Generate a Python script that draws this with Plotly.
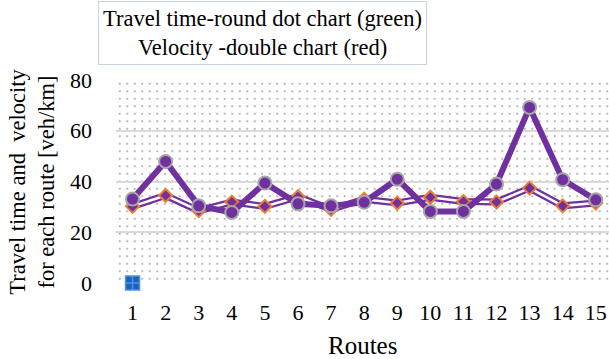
import plotly.graph_objects as go

routes = [str(i) for i in range(1, 16)]
travel_time = [33.1, 47.9, 30.4, 27.8, 39.4, 31.2, 30.4, 31.8, 40.9, 28.2, 28.2, 39.0, 69.2, 40.7, 32.8]
velocity = [30.2, 34.5, 28.5, 31.9, 30.2, 34.0, 29.0, 33.0, 31.5, 33.8, 32.1, 31.9, 37.4, 30.4, 31.5]
extra_x = ["1"]
extra_y = [0]
y_ticks = [0, 20, 40, 60, 80]

PURPLE = "#7030a0"
ORANGE = "#ed7d31"
FONT = "Times New Roman, Liberation Serif, serif"

fig = go.Figure()

# background dotted pattern on an underlying subplot (so grid lines of data subplot sit above it)
fig.add_trace(go.Bar(
    x=[0.5], y=[1], width=[1], xaxis="x", yaxis="y",
    marker=dict(color="rgba(0,0,0,0)", line=dict(width=0),
                pattern=dict(shape=".", size=7.5, solidity=0.06,
                             fgcolor="#454545", bgcolor="rgba(0,0,0,0)")),
    hoverinfo="skip", showlegend=False,
))

# velocity: double line
fig.add_trace(go.Scatter(x=routes, y=velocity, xaxis="x2", yaxis="y2", mode="lines",
                         line=dict(color=PURPLE, width=7), showlegend=False, hoverinfo="skip"))
fig.add_trace(go.Scatter(x=routes, y=velocity, xaxis="x2", yaxis="y2", mode="lines",
                         line=dict(color="white", width=2.5), showlegend=False, hoverinfo="skip"))
fig.add_trace(go.Scatter(x=routes, y=velocity, xaxis="x2", yaxis="y2", mode="markers",
                         marker=dict(symbol="diamond", size=10, color=PURPLE,
                                     line=dict(color=ORANGE, width=2)),
                         name="Velocity", showlegend=False))

# travel time: thick line with round dots
fig.add_trace(go.Scatter(x=routes, y=travel_time, xaxis="x2", yaxis="y2", mode="lines+markers",
                         line=dict(color=PURPLE, width=6),
                         marker=dict(symbol="circle", size=13, color=PURPLE,
                                     line=dict(color="#a6a6a6", width=2)),
                         name="Travel time", showlegend=False))

fig.add_trace(go.Scatter(x=extra_x, y=extra_y, xaxis="x2", yaxis="y2", mode="markers",
                         marker=dict(symbol="square-cross", size=14, color="#1565c0",
                                     line=dict(color="#5b8ed8", width=1.5)),
                         cliponaxis=False, showlegend=False))

fig.update_layout(
    width=609, height=359,
    margin=dict(l=116, r=0, t=80, b=76),
    paper_bgcolor="white", plot_bgcolor="rgba(0,0,0,0)",
    font=dict(family=FONT, color="#000000", size=21),
    bargap=0,
    xaxis=dict(domain=[0, 1], range=[0, 1], visible=False, fixedrange=True),
    yaxis=dict(domain=[0, 1], range=[0, 1], visible=False, fixedrange=True),
    xaxis2=dict(domain=[0, 1], anchor="y2", type="category", range=[-0.5, 14.4],
                showgrid=False, showline=False, zeroline=False, ticks="",
                tickfont=dict(family=FONT, size=22), ticklabelstandoff=14),
    yaxis2=dict(domain=[0, 1], anchor="x2", range=[0, 80], tickvals=y_ticks,
                showgrid=True, gridcolor="#d9d9d9", gridwidth=2, zeroline=False,
                showline=False, ticks="", tickfont=dict(family=FONT, size=22),
                ticklabelstandoff=23),
    annotations=[
        dict(text="Travel time-round dot chart (green)<br>Velocity -double chart (red)",
             xref="paper", yref="paper", x=0.298, y=1.389, xanchor="center", yanchor="top",
             showarrow=False, font=dict(family=FONT, size=22.5), align="center",
             bordercolor="#c9d3e3", borderwidth=1, borderpad=4, bgcolor="white"),
        dict(text="Travel time and\u00a0\u00a0velocity<br>for each route [veh/km]",
             xref="paper", yref="paper", x=-0.172, y=0.5, xanchor="center", yanchor="middle",
             textangle=-90, showarrow=False, font=dict(family=FONT, size=22.5), align="center"),
        dict(text="Routes", xref="paper", yref="paper", x=0.5, y=-0.31,
             xanchor="center", yanchor="middle", showarrow=False,
             font=dict(family=FONT, size=25)),
    ],
)

fig.write_html("out.html")
